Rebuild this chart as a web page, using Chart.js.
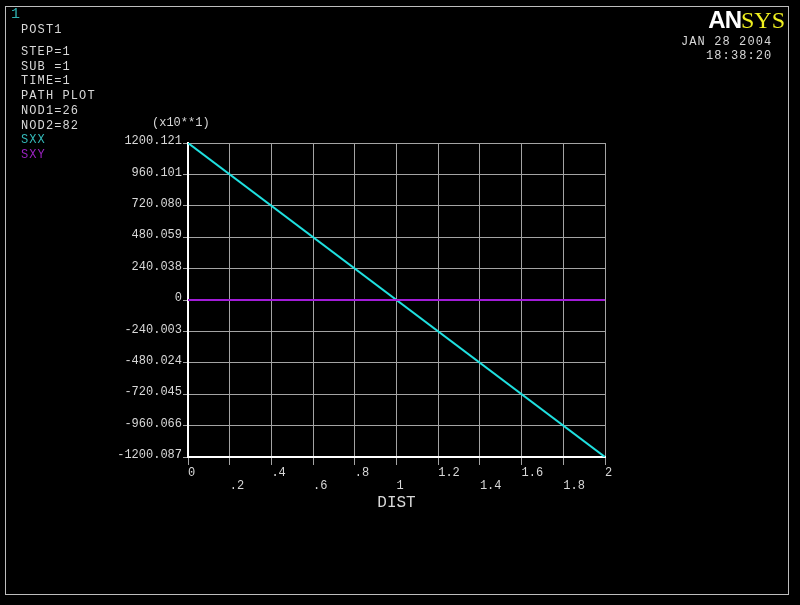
<!DOCTYPE html>
<html>
<head>
<meta charset="utf-8">
<script src="https://cdn.jsdelivr.net/npm/chart.js@4/dist/chart.umd.min.js"></script>
<style>
  html, body { margin: 0; padding: 0; background: #000; }
  #wrap { position: relative; width: 800px; height: 605px; background: #000; overflow: hidden; }
  #frame { position: absolute; left: 5px; top: 6px; width: 782px; height: 587px; border: 1px solid #bdbdbd; }
  .txt { position: absolute; font-family: "Liberation Mono", monospace; font-size: 12px; color: #d8d8d8; white-space: pre; }
  .info { letter-spacing: 1.1px; line-height: 14.7px; }
  #winnum { left: 11px; top: 6px; font-size: 15px; color: #2fb0b0; }
  #logo { position: absolute; right: 15px; top: 6px; font-size: 24px; white-space: pre; }
  #logo .an { font-family: "Liberation Sans", sans-serif; font-weight: bold; color: #fff; letter-spacing: -1px; }
  #logo .sys { font-family: "Liberation Serif", serif; color: #f0f020; }
  canvas { position: absolute; left: 0; top: 0; }
</style>
</head>
<body>
<div id="wrap">
  <canvas id="plot" width="800" height="605"></canvas>
  <div id="frame"></div>
  <div id="winnum" class="txt">1</div>
  <div class="txt info" style="left:21px; top:23px;">POST1</div>
  <div class="txt info" style="left:21px; top:45px;">STEP=1
SUB =1
TIME=1
PATH PLOT
NOD1=26
NOD2=82
<span style="color:#33b8b8">SXX</span>
<span style="color:#9a22c0">SXY</span></div>
  <div class="txt" style="left:152px; top:116px;">(x10**1)</div>
  <div id="logo"><span class="an">AN</span><span class="sys">SYS</span></div>
  <div class="txt info" style="left:681px; top:35px;">JAN 28 2004</div>
  <div class="txt info" style="left:706px; top:49px;">18:38:20</div>
</div>
<script>
// path plot data (DIST along path, stresses in x10**1)
const dist = [0, 2];
const sxx = [1200.121, -1200.087];
const sxy = [0, 0];

// axis tick labels as printed by ANSYS
const xTicks = ['0', '.2', '.4', '.6', '.8', '1', '1.2', '1.4', '1.6', '1.8', '2'];
const yTicks = ['1200.121', '960.101', '720.080', '480.059', '240.038', '0',
  '-240.003', '-480.024', '-720.045', '-960.066', '-1200.087'];

const xVals = xTicks.map(Number);
const yVals = yTicks.map(Number).reverse();

const textColor = '#d8d8d8';
const gridColor = '#a4a4a4';

const ctx = document.getElementById('plot');
const chart = new Chart(ctx, {
  type: 'line',
  data: {
    datasets: [
      {
        label: 'SXY',
        data: dist.map((d, i) => ({ x: d, y: sxy[i] })),
        borderColor: '#a21cd8',
        borderWidth: 2,
        pointRadius: 0,
        tension: 0,
      },
      {
        label: 'SXX',
        data: dist.map((d, i) => ({ x: d, y: sxx[i] })),
        borderColor: '#1fe0e0',
        borderWidth: 2,
        pointRadius: 0,
        tension: 0,
      },
    ],
  },
  options: {
    responsive: false,
    animation: false,
    layout: {
      padding: { left: 0, top: 143, right: 195, bottom: 89 },
    },
    scales: {
      x: {
        type: 'linear',
        min: 0,
        max: 2,
        afterBuildTicks: (scale) => { scale.ticks = xVals.map(v => ({ value: v })); },
        afterFit: (scale) => { scale.height = 59; },
        grid: {
          color: gridColor,
          lineWidth: 1,
          tickLength: 8,
        },
        border: { color: '#ffffff', width: 2 },
        ticks: {
          autoSkip: false,
          maxRotation: 0,
          align: 'start',
          padding: 1,
          color: textColor,
          font: { family: '"Liberation Mono", monospace', size: 12, lineHeight: 1.12 },
          // staggered labels: every other one drops to a second row
          callback: (value, index) => index % 2 ? ['', xTicks[index]] : xTicks[index],
        },
        title: {
          display: true,
          text: 'DIST',
          color: textColor,
          padding: { top: 4, bottom: 4 },
          font: { family: '"Liberation Mono", monospace', size: 16, lineHeight: 1.2 },
        },
      },
      y: {
        type: 'linear',
        min: -1200.087,
        max: 1200.121,
        afterBuildTicks: (scale) => { scale.ticks = yVals.map(v => ({ value: v })); },
        afterFit: (scale) => { scale.width = 188; },
        grid: {
          color: gridColor,
          lineWidth: 1,
          tickLength: 5,
        },
        border: { color: '#ffffff', width: 2 },
        ticks: {
          autoSkip: false,
          padding: 1,
          labelOffset: -2,
          color: textColor,
          font: { family: '"Liberation Mono", monospace', size: 12 },
          callback: (value, index) => yTicks[yTicks.length - 1 - index],
        },
      },
    },
    plugins: {
      legend: { display: false },
      tooltip: { enabled: false },
    },
  },
});
</script>
</body>
</html>
